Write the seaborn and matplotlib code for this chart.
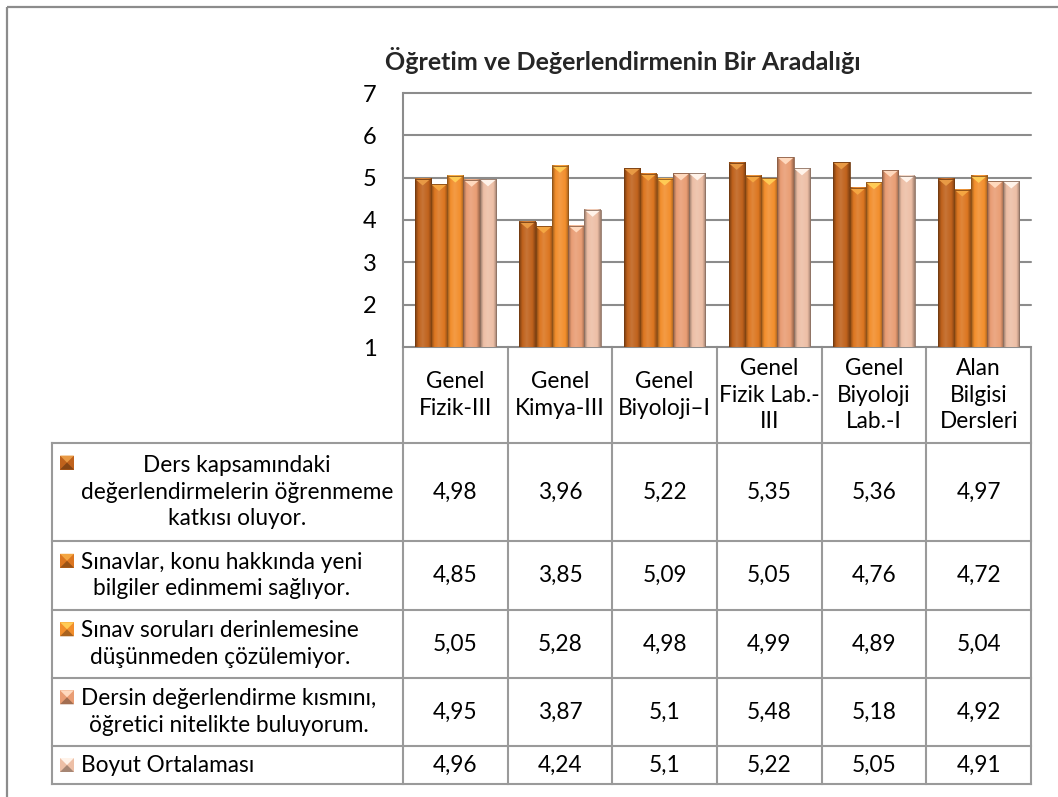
import numpy as np
import pandas as pd
import matplotlib
matplotlib.use("Agg")
import matplotlib.pyplot as plt
import matplotlib.colors as mcolors
from matplotlib.patches import Rectangle, Polygon
import seaborn as sns

# --- data ---
title = "Öğretim ve Değerlendirmenin Bir Aradalığı"
courses = ["Genel\nFizik-III", "Genel\nKimya-III", "Genel\nBiyoloji–I",
           "Genel\nFizik Lab.-\nIII", "Genel\nBiyoloji\nLab.-I", "Alan\nBilgisi\nDersleri"]
items = ["Ders kapsamındaki\ndeğerlendirmelerin öğrenmeme\nkatkısı oluyor.",
         "Sınavlar, konu hakkında yeni\nbilgiler edinmemi sağlıyor.",
         "Sınav soruları derinlemesine\ndüşünmeden çözülemiyor.",
         "Dersin değerlendirme kısmını,\nöğretici nitelikte buluyorum.",
         "Boyut Ortalaması"]
ders_kapsami = [4.98, 3.96, 5.22, 5.35, 5.36, 4.97]
sinavlar_yeni_bilgi = [4.85, 3.85, 5.09, 5.05, 4.76, 4.72]
derinlemesine = [5.05, 5.28, 4.98, 4.99, 4.89, 5.04]
ogretici_nitelik = [4.95, 3.87, 5.10, 5.48, 5.18, 4.92]
boyut_ortalamasi = [4.96, 4.24, 5.10, 5.22, 5.05, 4.91]
y_ticks = [1, 2, 3, 4, 5, 6, 7]

series = [ders_kapsami, sinavlar_yeni_bilgi, derinlemesine, ogretici_nitelik, boyut_ortalamasi]
colors = ["#C0621C", "#DC7620", "#F28E2C", "#E99D74", "#EDBFA6"]
top_colors = ["#E89A45", "#F4A642", "#FFCB55", "#FFD9BE", "#FFF3EA"]

df = pd.DataFrame({
    "course": courses * len(items),
    "item": [it for it in items for _ in courses],
    "value": [v for s in series for v in s],
})

W, H = 1058, 797
sns.set_style("white")
plt.rcParams["font.family"] = ["Lato", "DejaVu Sans"]

fig = plt.figure(figsize=(W / 100, H / 100), dpi=100)

# overlay in pixel coordinates for frame, title and data table
ov = fig.add_axes([0, 0, 1, 1], zorder=0)
ov.set_xlim(0, W)
ov.set_ylim(H, 0)
ov.axis("off")

# plot area
px_left, px_right, px_top, px_bottom = 403, 1031, 93, 347
ax = fig.add_axes([px_left / W, 1 - px_bottom / H, (px_right - px_left) / W,
                   (px_bottom - px_top) / H], zorder=1)
ax.patch.set_alpha(0)

sns.barplot(data=df, x="course", y="value", hue="item", order=courses, hue_order=items,
            palette=colors, width=0.78, saturation=1, legend=False, ax=ax,
            edgecolor="none", linewidth=0)

ax.set_xlim(-0.5, len(courses) - 0.5)
ax.set_ylim(y_ticks[0], y_ticks[-1])
ax.set_yticks(y_ticks)
ax.set_yticklabels([str(t) for t in y_ticks], fontsize=17, color="black")
ax.tick_params(axis="y", length=0, pad=19)
ax.set_xticks([])
ax.set_xlabel("")
ax.set_ylabel("")
for side in ["top", "right", "bottom"]:
    ax.spines[side].set_visible(False)
ax.spines["left"].set_color("#8c8c8c")
ax.spines["left"].set_linewidth(1.5)
ax.set_axisbelow(True)
ax.yaxis.grid(True, color="#8c8c8c", linewidth=1.5)
for gl in ax.get_ygridlines():
    gl.set_clip_on(False)


def mix(c, other, t):
    a = np.array(mcolors.to_rgb(c))
    b = np.array(mcolors.to_rgb(other))
    return tuple(a * (1 - t) + b * t)


# bevelled look for the bars
px_per_unit = (px_bottom - px_top) / (y_ticks[-1] - y_ticks[0])
bevel = 7 / px_per_unit
grad = np.linspace(0, 1, 64).reshape(1, -1)
for cont, base, top in zip(ax.containers, colors, top_colors):
    cmap = mcolors.LinearSegmentedColormap.from_list(
        "bar", [(0, mix(base, "black", 0.4)), (0.2, base), (0.45, mix(base, "white", 0.12)),
                (0.8, base), (1, mix(base, "black", 0.35))])
    for bar in cont:
        x0 = bar.get_x()
        x1 = x0 + bar.get_width()
        h = bar.get_height()
        ax.imshow(grad, extent=[x0, x1, y_ticks[0], h], aspect="auto", cmap=cmap,
                  zorder=2, interpolation="bilinear")
        ax.add_patch(Polygon([[x0, h], [x1, h], [(x0 + x1) / 2, h - bevel]],
                             closed=True, facecolor=top, edgecolor="none", zorder=3))
        ax.add_patch(Rectangle((x0, y_ticks[0]), x1 - x0, h - y_ticks[0], facecolor="none",
                               edgecolor=mix(base, "black", 0.4), linewidth=0.6, zorder=4))
ax.set_xlim(-0.5, len(courses) - 0.5)
ax.set_ylim(y_ticks[0], y_ticks[-1])

# outer chart frame (left and top edges visible)
line_kw = dict(color="#8c8c8c", linewidth=1.6, solid_capstyle="butt")
ov.plot([7, 7], [7, H], **line_kw)
ov.plot([7, W], [7, 7], **line_kw)

ov.text(623, 60, title, fontsize=18, fontweight="bold", ha="center", va="center")

# data table below the plot
tbl_kw = dict(color="#9a9a9a", linewidth=1.5, solid_capstyle="projecting")
col_w = (px_right - px_left) / len(courses)
col_edges = [px_left + i * col_w for i in range(len(courses) + 1)]
leg_left = 52
row_edges = [443, 541, 610, 678, 746, 784]

for y in row_edges:
    ov.plot([leg_left, px_right], [y, y], **tbl_kw)
ov.plot([leg_left, leg_left], [row_edges[0], row_edges[-1]], **tbl_kw)
for x in col_edges:
    ov.plot([x, x], [px_bottom, row_edges[-1]], **tbl_kw)

fs, lsp = 16.3, 1.3
text_kw = dict(fontsize=fs, linespacing=lsp, color="black")
line_px = fs * 100 / 72 * lsp
for i, course in enumerate(courses):
    cx = (col_edges[i] + col_edges[i + 1]) / 2
    ov.text(cx, (px_bottom + row_edges[0]) / 2, course, ha="center", va="center",
            multialignment="center", **text_kw)

for r, (item, vals, base, top) in enumerate(zip(items, series, colors, top_colors)):
    y0, y1 = row_edges[r], row_edges[r + 1]
    cy = (y0 + y1) / 2
    n_lines = item.count("\n") + 1
    ov.text(81, cy, item, ha="left", va="center", multialignment="center", **text_kw)
    # pyramid-style legend marker on the first text line
    my = cy - (n_lines - 1) * line_px / 2
    s = 14
    mx0, my0 = 60, my - s / 2
    ov.add_patch(Rectangle((mx0, my0), s, s, facecolor=base, edgecolor="none"))
    ov.add_patch(Polygon([[mx0, my0], [mx0 + s, my0], [mx0 + s / 2, my0 + s / 2]],
                         facecolor=top, edgecolor="none"))
    ov.add_patch(Polygon([[mx0, my0 + s], [mx0 + s, my0 + s], [mx0 + s / 2, my0 + s / 2]],
                         facecolor=mix(base, "black", 0.3), edgecolor="none"))
    for i, v in enumerate(vals):
        cx = (col_edges[i] + col_edges[i + 1]) / 2
        ov.text(cx, cy, f"{v:g}".replace(".", ","), ha="center", va="center", **text_kw)

fig.savefig("out.png", dpi=100)
